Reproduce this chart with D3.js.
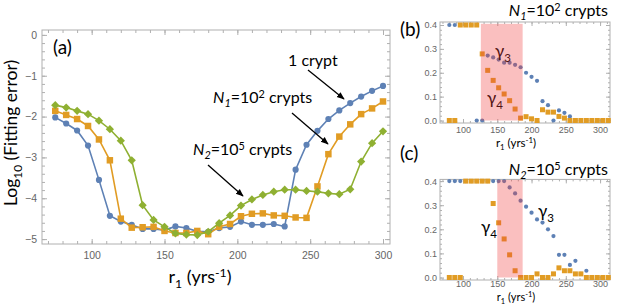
<!DOCTYPE html>
<html>
<head>
<meta charset="utf-8">
<script src="https://cdnjs.cloudflare.com/ajax/libs/d3/7.8.5/d3.min.js"></script>
<style>
  body { margin: 0; background: #fff; }
  svg text { font-family: Lato, "Open Sans", sans-serif; fill: #000; }
  .tick text { font-family: "Liberation Sans", Arial, sans-serif; fill: #666; }
  .tick line { stroke: #b0b0b0; }
  .domain { display: none; }
</style>
</head>
<body>
<div id="chart"></div>
<script>

// ---- data ----

// panel (a): fitting error vs r1
var r1_main = [75, 82.5, 90, 97.5, 105, 112.5, 120, 127.5, 135, 142.5, 150, 157.5, 165, 172.5, 180,
               187.5, 195, 202.5, 210, 217.5, 225, 232.5, 240, 247.5, 255, 262.5, 270, 277.5, 285, 292.5, 300];
var err_1crypt = [-2.02, -2.17, -2.34, -2.71, -3.55, -4.43, -4.57, -4.65, -4.75, -4.75, -4.78, -4.69, -4.73, -4.81, -4.82,
                  -4.73, -4.70, -4.57, -4.65, -4.65, -4.63, -4.69, -3.30, -2.69, -2.35, -2.06, -1.85, -1.67, -1.51, -1.37, -1.25];
var err_N1 = [-1.86, -1.96, -2.06, -2.23, -2.56, -3.07, -4.50, -4.72, -4.71, -4.70, -4.80, -4.85, -4.85, -4.80, -4.88,
              -4.70, -4.63, -4.44, -4.38, -4.37, -4.42, -4.43, -4.47, -4.48, -3.71, -2.92, -2.49, -2.19, -1.94, -1.80, -1.63];
var err_N2 = [-1.72, -1.78, -1.86, -1.94, -2.10, -2.31, -2.59, -3.07, -4.17, -4.53, -4.70, -4.86, -4.89, -4.90, -4.82,
              -4.61, -4.42, -4.18, -4.03, -3.92, -3.84, -3.79, -3.79, -3.82, -3.84, -3.88, -3.90, -3.78, -3.10, -2.65, -2.36];

// panels (b) and (c): fitted gamma values vs r1
var r1_panel = [80, 88, 96, 104, 112, 120, 128, 136, 144, 152, 160, 168, 176, 184, 192,
                200, 208, 216, 224, 232, 240, 248, 256, 264, 272, 280, 288, 296, 304, 312];
var gamma3_N1 = [0.4, 0.4, 0.4, 0.4, 0.4, 0, 0, 0.272, 0.264, 0.255, 0.242, 0.242, 0.233, 0.223, 0.2,
                 0.183, 0.166, 0.081, 0.064, 0, 0.042, 0.032, 0.017, 0, 0, 0, 0, 0, 0, 0];
var gamma4_N1 = [0, 0, 0.4, 0.4, 0.4, 0.4, 0.279, 0.21, 0.168, 0.137, 0.111, 0.083, 0.048, 0.01, 0.016,
                 0.007, 0, 0.045, 0.035, 0.035, 0.017, 0.01, 0, 0, 0, 0, 0, 0, 0, 0];
var gamma3_N2 = [0.4, 0.4, 0.4, 0.4, 0.4, 0.4, 0.4, 0.4, 0.4, 0.4, 0.4, 0.374, 0.349, 0.319, 0.294,
                 0.269, 0.241, 0.228, 0.2, 0.172, 0.094, 0.094, 0.052, 0.069, 0.015, 0.028, 0, 0, 0, 0];
var gamma4_N2 = [0, 0, 0, 0.4, 0.4, 0.4, 0.4, 0.4, 0.307, 0.227, 0.16, 0.094, 0.028, 0, 0,
                 0, 0.015, 0, 0, 0.015, 0.04, 0.028, 0.028, 0.015, 0.015, 0, 0, 0, 0, 0];

// shaded r1 ranges
var band_N1 = [126, 187];
var band_N2 = [150, 187];
var band_top = 0.405;

// tick labels
var ticks_r1 = [100, 150, 200, 250, 300];
var ticks_err = [0, -1, -2, -3, -4, -5];
var ticks_gamma = [0, 0.1, 0.2, 0.3, 0.4];

// mathematica default colours
var col_blue = "#5e81b5", col_orange = "#e19c24", col_green = "#8fb032";

var svg = d3.select("#chart").append("svg")
    .attr("width", 617)
    .attr("height", 306);

// arrow head
svg.append("defs").append("marker")
    .attr("id", "arrow")
    .attr("viewBox", "0 0 10 10")
    .attr("refX", 9).attr("refY", 5)
    .attr("markerWidth", 6).attr("markerHeight", 6)
    .attr("orient", "auto")
  .append("path")
    .attr("d", "M0,1 L10,5 L0,9 z")
    .attr("fill", "#000");

// text with sub / superscripts and italics
function rich_text(g, x, y, parts, size, anchor) {
	var t = g.append("text")
	    .attr("x", x).attr("y", y)
	    .attr("font-size", size)
	    .attr("text-anchor", anchor || "start");
	var shift = 0;
	parts.forEach(function(p) {
		var target = p.sub ? size * 0.28 : (p.sup ? -size * 0.33 : 0);
		var s = t.append("tspan").text(p.t).attr("dy", target - shift);
		shift = target;
		if (p.sub || p.sup) s.attr("font-size", size * 0.68);
		if (p.i) s.attr("font-style", "italic");
	});
	return t;
}

// frame with inward ticks on all four sides
function draw_frame(g, x, y, box, o) {
	g.append("rect")
	    .attr("x", box.left).attr("y", box.top)
	    .attr("width", box.right - box.left).attr("height", box.bottom - box.top)
	    .attr("fill", "none").attr("stroke", "#b0b0b0").attr("stroke-width", 1);

	var sides = [
		{axis: d3.axisBottom(x), pos: "translate(0," + box.bottom + ")", major: o.xt, minor: o.xm, fmt: o.xfmt, pad: o.xpad},
		{axis: d3.axisTop(x),    pos: "translate(0," + box.top + ")",    major: o.xt, minor: o.xm, fmt: null},
		{axis: d3.axisLeft(y),   pos: "translate(" + box.left + ",0)",   major: o.yt, minor: o.ym, fmt: o.yfmt, pad: o.ypad},
		{axis: d3.axisRight(y),  pos: "translate(" + box.right + ",0)",  major: o.yt, minor: o.ym, fmt: null}
	];
	sides.forEach(function(s) {
		g.append("g")
		    .attr("transform", s.pos)
		    .call(s.axis.tickValues(s.minor).tickSize(-o.minor_len).tickFormat(""));
		var a = g.append("g")
		    .attr("transform", s.pos)
		    .call(s.axis.tickValues(s.major).tickSize(-o.major_len)
		        .tickPadding(s.pad || 3)
		        .tickFormat(s.fmt ? s.fmt : ""));
		a.attr("font-size", o.font).attr("font-family", null);
	});
}

// ---------------- panel (a) ----------------
function draw_main() {
	var box = {left: 42, top: 30, right: 390, bottom: 244};
	var x = d3.scaleLinear().domain([65.9, 304.8]).range([box.left, box.right]);
	var y = d3.scaleLinear().domain([0.12, -5.12]).range([box.top, box.bottom]);
	var g = svg.append("g");

	draw_frame(g, x, y, box, {
		xt: ticks_r1, xm: d3.range(70, 301, 10), xfmt: d3.format("d"), xpad: 8,
		yt: ticks_err, ym: d3.range(-5, 0.01, 0.2), yfmt: d3.format("d"), ypad: 5,
		major_len: 5, minor_len: 3, font: 10.5
	});

	var series = [
		{v: err_1crypt, c: col_blue,   shape: "circle"},
		{v: err_N1,     c: col_orange, shape: "square"},
		{v: err_N2,     c: col_green,  shape: "diamond"}
	];

	var line = d3.line()
	    .x(function(d, i) { return x(r1_main[i]); })
	    .y(function(d) { return y(d); });

	series.forEach(function(s) {
		g.append("path")
		    .datum(s.v)
		    .attr("d", line)
		    .attr("fill", "none")
		    .attr("stroke", s.c)
		    .attr("stroke-width", 1.6);

		var sym = s.shape == "circle" ? d3.symbol(d3.symbolCircle, 30)
		        : d3.symbol(d3.symbolSquare, s.shape == "square" ? 42 : 34);
		g.selectAll(".m-" + s.shape).data(s.v)
		  .enter().append("path")
		    .attr("class", "m-" + s.shape)
		    .attr("d", sym)
		    .attr("transform", function(d, i) {
		    	return "translate(" + x(r1_main[i]) + "," + y(d) + ")" + (s.shape == "diamond" ? " rotate(45)" : "");
		    })
		    .attr("fill", s.c);
	});

	// panel letter
	g.append("text").attr("x", 53).attr("y", 54).attr("font-size", 19).text("(a)");

	// curve labels with arrows
	rich_text(g, 288, 66, [{t: "1 crypt"}], 16);
	rich_text(g, 213, 103, [{t: "N", i: true}, {t: "1", i: true, sub: true}, {t: "=10"}, {t: "2", sup: true}, {t: " crypts"}], 16);
	rich_text(g, 193, 155, [{t: "N", i: true}, {t: "2", i: true, sub: true}, {t: "=10"}, {t: "5", sup: true}, {t: " crypts"}], 16);

	var arrows = [[308, 70, 344, 99], [292, 113, 328, 144], [208, 165, 243, 196]];
	arrows.forEach(function(a) {
		g.append("line")
		    .attr("x1", a[0]).attr("y1", a[1]).attr("x2", a[2]).attr("y2", a[3])
		    .attr("stroke", "#000").attr("stroke-width", 1.3)
		    .attr("marker-end", "url(#arrow)");
	});

	// axis titles
	rich_text(g, 200, 283, [{t: "r"}, {t: "1", sub: true}, {t: " (yrs"}, {t: "-1", sup: true}, {t: ")"}], 18, "middle");
	rich_text(g, 0, 0, [{t: "Log"}, {t: "10", sub: true}, {t: " (Fitting error)"}], 17.5, "middle")
	    .attr("transform", "translate(17,133) rotate(-90)");
}

// ---------------- panels (b) and (c) ----------------
function draw_panel(box, ydom, g3, g4, band, letter, title, labels) {
	var x = d3.scaleLinear().domain([66.4, 314.5]).range([box.left, box.right]);
	var y = d3.scaleLinear().domain(ydom).range([box.bottom, box.top]);
	var g = svg.append("g");

	draw_frame(g, x, y, box, {
		xt: ticks_r1, xm: d3.range(70, 311, 10), xfmt: d3.format("d"), xpad: title.xpad,
		yt: ticks_gamma, ym: d3.range(0, 0.401, 0.02), yfmt: d3.format(".1f"), ypad: 3,
		major_len: 4, minor_len: 2, font: 9
	});

	// gamma 3 as dots
	g.selectAll(".g3").data(g3)
	  .enter().append("circle")
	    .attr("class", "g3")
	    .attr("cx", function(d, i) { return x(r1_panel[i]); })
	    .attr("cy", function(d) { return y(d); })
	    .attr("r", 2.1)
	    .attr("fill", col_blue);

	// gamma 4 as squares
	g.selectAll(".g4").data(g4)
	  .enter().append("rect")
	    .attr("class", "g4")
	    .attr("x", function(d, i) { return x(r1_panel[i]) - 2.5; })
	    .attr("y", function(d) { return y(d) - 2.5; })
	    .attr("width", 5).attr("height", 5)
	    .attr("fill", col_orange);

	labels.forEach(function(l) {
		rich_text(g, l.x, l.y, [{t: "\u03b3"}, {t: l.n, sub: true}], 17);
	});

	// shaded range, drawn over the points
	g.append("rect")
	    .attr("x", x(band[0]))
	    .attr("width", x(band[1]) - x(band[0]))
	    .attr("y", y(band_top))
	    .attr("height", y(0) - y(band_top))
	    .attr("fill", "rgb(240,60,60)")
	    .attr("fill-opacity", 0.33);

	g.append("text").attr("x", 400).attr("y", letter.y).attr("font-size", 19).text(letter.t);
	rich_text(g, 608, title.y, title.parts, 16, "end");
	rich_text(g, 516, box.bottom + title.xlab, [{t: "r"}, {t: "1", sub: true}, {t: " (yrs"}, {t: "-1", sup: true}, {t: ")"}], title.xfont, "middle");
}

draw_main();

draw_panel({left: 440, top: 22, right: 610, bottom: 123}, [-0.0105, 0.4126],
	gamma3_N1, gamma4_N1, band_N1,
	{t: "(b)", y: 36},
	{y: 16, xlab: 24, xpad: 4, xfont: 11.5, parts: [{t: "N", i: true}, {t: "1", i: true, sub: true}, {t: "=10"}, {t: "2", sup: true}, {t: " crypts"}]},
	[{x: 495, y: 57, n: "3"}, {x: 487, y: 104, n: "4"}]);

draw_panel({left: 440, top: 179.4, right: 610, bottom: 280}, [-0.0104, 0.4071],
	gamma3_N2, gamma4_N2, band_N2,
	{t: "(c)", y: 160},
	{y: 175, xlab: 20.5, xpad: 1, xfont: 11, parts: [{t: "N", i: true}, {t: "2", i: true, sub: true}, {t: "=10"}, {t: "5", sup: true}, {t: " crypts"}]},
	[{x: 538, y: 217, n: "3"}, {x: 481, y: 233, n: "4"}]);

</script>
</body>
</html>
